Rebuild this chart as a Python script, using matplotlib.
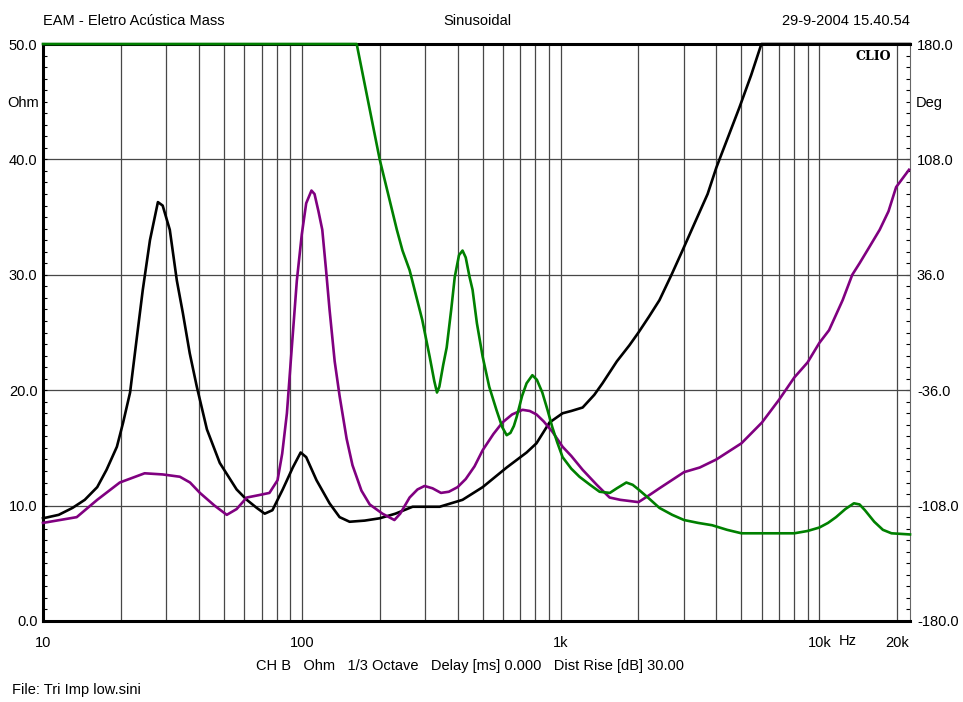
import matplotlib
matplotlib.use("Agg")
import matplotlib.pyplot as plt
import numpy as np

plt.rcParams['font.family'] = ['Liberation Sans', 'DejaVu Sans']

# readings from the CLIO plot (Hz, Ohm)
black_f = [10, 11.5, 13, 14.5, 16.2, 17.6, 19.3, 20.4, 21.7, 23, 24.3, 25.9, 27.8, 29, 30.9,
           32.9, 34.7, 36.9, 39.3, 43, 48.2, 56, 61.3, 67, 71.9, 77, 84.4, 92.3, 99, 104,
           114, 128, 140, 153, 175, 200, 230, 268, 341, 418, 500, 619, 739, 807, 906, 1018,
           1100, 1217, 1350, 1452, 1650, 1846, 2000, 2200, 2410, 2683, 2958, 3300, 3700,
           4000, 4450, 4910, 5450, 5970, 22400]
black_z = [8.9, 9.2, 9.8, 10.5, 11.6, 13.1, 15.1, 17.2, 19.8, 24.4, 28.7, 33.0, 36.3, 36.0, 33.9,
           29.5, 26.7, 23.2, 20.3, 16.6, 13.7, 11.4, 10.5, 9.8, 9.3, 9.6, 11.4, 13.3, 14.6, 14.2,
           12.2, 10.2, 9.0, 8.6, 8.7, 8.9, 9.3, 9.9, 9.9, 10.5, 11.6, 13.3, 14.6, 15.4, 17.2, 18.0,
           18.2, 18.5, 19.6, 20.6, 22.5, 23.9, 25.0, 26.4, 27.8, 30.0, 32.1, 34.5, 37.0,
           39.3, 42.0, 44.5, 47.3, 50.0, 50.0]

purple_f = [10, 13.5, 16.2, 19.8, 24.7, 29, 33.8, 37, 40.4, 46, 51.3, 56, 61.3, 68, 75,
            80.6, 84, 87.6, 91, 95.7, 100, 104, 109, 112, 116, 120, 124, 128, 134, 140,
            149, 157, 170, 183, 205, 228, 240, 261, 280, 298, 320, 345, 370, 400, 430,
            465, 500, 550, 596, 650, 713, 760, 807, 860, 930, 1018, 1100, 1217, 1380,
            1547, 1700, 1846, 2000, 2200, 2410, 3000, 3450, 4000, 5000, 6000, 7000, 8000,
            9000, 10000, 10900, 12300, 13400, 14300, 15500, 17100, 18500, 19800, 22200]
purple_z = [8.5, 9.0, 10.5, 12.0, 12.8, 12.7, 12.5, 12.0, 11.1, 10.0, 9.2, 9.7, 10.7, 10.9, 11.1,
            12.2, 14.5, 18.0, 23.0, 29.5, 33.5, 36.2, 37.3, 37.0, 35.5, 33.9, 30.5, 27.0, 22.5, 19.5,
            15.8, 13.5, 11.3, 10.1, 9.3, 8.75, 9.3, 10.7, 11.4, 11.7, 11.5, 11.1, 11.2, 11.6, 12.3,
            13.4, 14.8, 16.2, 17.2, 17.9, 18.3, 18.2, 17.9, 17.3, 16.4, 15.1, 14.3, 13.1, 11.8,
            10.7, 10.5, 10.4, 10.3, 10.9, 11.5, 12.9, 13.3, 14.0, 15.4, 17.2, 19.2, 21.1,
            22.4, 24.1, 25.2, 27.8, 30.0, 31.0, 32.3, 33.9, 35.5, 37.6, 39.1]

green_f = [10, 163, 200, 233, 245, 261, 292, 312, 325, 333, 340, 352, 363, 378, 390, 405,
           418, 430, 445, 457, 475, 500, 530, 565, 595, 619, 640, 660, 677, 710, 739, 778,
           810, 850, 890, 929, 970, 1018, 1100, 1183, 1300, 1415, 1550, 1650, 1795, 1900,
           2000, 2200, 2410, 2700, 3000, 3400, 3850, 4400, 5000, 8000, 9000, 10000, 10800,
           11600, 12600, 13600, 14300, 15000, 16300, 17600, 19000, 22400]
green_z = [50, 50, 40, 33.9, 32.1, 30.4, 26.1, 22.9, 20.8, 19.8, 20.3, 22.2, 23.7, 27.0, 29.8, 31.7,
           32.1, 31.5, 29.8, 28.7, 25.8, 22.9, 20.3, 18.3, 16.8, 16.1, 16.3, 16.9, 17.7, 19.5, 20.6, 21.3,
           20.9, 19.8, 18.3, 16.8, 15.5, 14.2, 13.2, 12.5, 11.8, 11.2, 11.1, 11.5, 12.0, 11.8,
           11.4, 10.6, 9.8, 9.2, 8.75, 8.5, 8.3, 7.9, 7.6, 7.6, 7.8, 8.1, 8.5,
           9.0, 9.7, 10.2, 10.1, 9.6, 8.6, 7.9, 7.6, 7.5]

x_major = [10, 100, 1000, 10000, 20000]
x_major_labels = ["10", "100", "1k", "10k", "20k"]
y_left = [0, 10, 20, 30, 40, 50]
y_right = [-180, -108, -36, 36, 108, 180]

W, H = 963, 702
fig = plt.figure(figsize=(W / 100, H / 100), dpi=100)
ax = fig.add_axes([43 / W, 1 - 621 / H, (910 - 43) / W, (621 - 44) / H])
ax2 = ax.twinx()

ax.set_xscale('log')
ax.set_xlim(10, 22400)
ax.set_ylim(0, 50)
ax2.set_ylim(-180, 180)

gridcol = '#474747'
minor_x = [m * d for d in (10, 100, 1000) for m in range(2, 10)]
ax.set_xticks(x_major)
ax.set_xticklabels(x_major_labels)
ax.set_xticks(minor_x, minor=True)
ax.xaxis.set_minor_formatter(plt.NullFormatter())
ax.tick_params(axis='x', which='both', length=0, pad=11, labelsize=10.5)
ax.grid(True, axis='x', which='both', color=gridcol, lw=0.9)

ax.set_yticks(y_left)
ax.set_yticklabels([f"{v:.1f}" for v in y_left])
ax.set_yticks(np.arange(0, 51, 1), minor=True)
ax.tick_params(axis='y', which='both', direction='in', length=3.2, width=0.8, pad=4, labelsize=10.5)
ax.grid(True, axis='y', which='major', color=gridcol, lw=0.9)

ax2.set_yticks(y_right)
ax2.set_yticklabels([f"{v:.1f}" for v in y_right])
ax2.set_yticks(np.arange(-180, 181, 7.2), minor=True)
ax2.tick_params(axis='y', which='both', direction='in', length=3.2, width=0.8, pad=5, labelsize=10.5)

for s in ('left', 'bottom', 'top'):
    ax.spines[s].set_linewidth(2.2)
    ax.spines[s].set_color('black')
    ax2.spines[s].set_visible(False)
ax.spines['right'].set_visible(False)
ax2.spines['right'].set_color('#666666')
ax2.spines['right'].set_linewidth(0.8)

ax.set_zorder(2)
ax.patch.set_visible(False)

ax.plot(black_f, black_z, color='black', lw=1.9, zorder=3, clip_on=False)
ax.plot(purple_f, purple_z, color='#800080', lw=1.9, zorder=3, clip_on=False)
ax.plot(green_f, green_z, color='#008000', lw=1.9, zorder=3, clip_on=False)

def px(x, y):
    return x / W, 1 - y / H

fs = 10.5
fig.text(*px(43, 21), "EAM - Eletro Acústica Mass", fontsize=fs, va='center', ha='left')
fig.text(*px(477, 21), "Sinusoidal", fontsize=fs, va='center', ha='center')
fig.text(*px(910, 21), "29-9-2004 15.40.54", fontsize=fs, va='center', ha='right')
fig.text(*px(7, 103), "Ohm", fontsize=fs, va='center', ha='left')
fig.text(*px(916, 103), "Deg", fontsize=fs, va='center', ha='left')
fig.text(*px(848, 641), "Hz", fontsize=fs, va='center', ha='center')
fig.text(*px(470, 666), "CH B   Ohm   1/3 Octave   Delay [ms] 0.000   Dist Rise [dB] 30.00",
         fontsize=fs, va='center', ha='center')
fig.text(*px(12, 690), "File: Tri Imp low.sini", fontsize=fs, va='center', ha='left')
fig.text(*px(873, 57), "CLIO", fontsize=9, fontweight='bold', family='DejaVu Serif',
         va='center', ha='center')

fig.savefig("out.png", dpi=100)
